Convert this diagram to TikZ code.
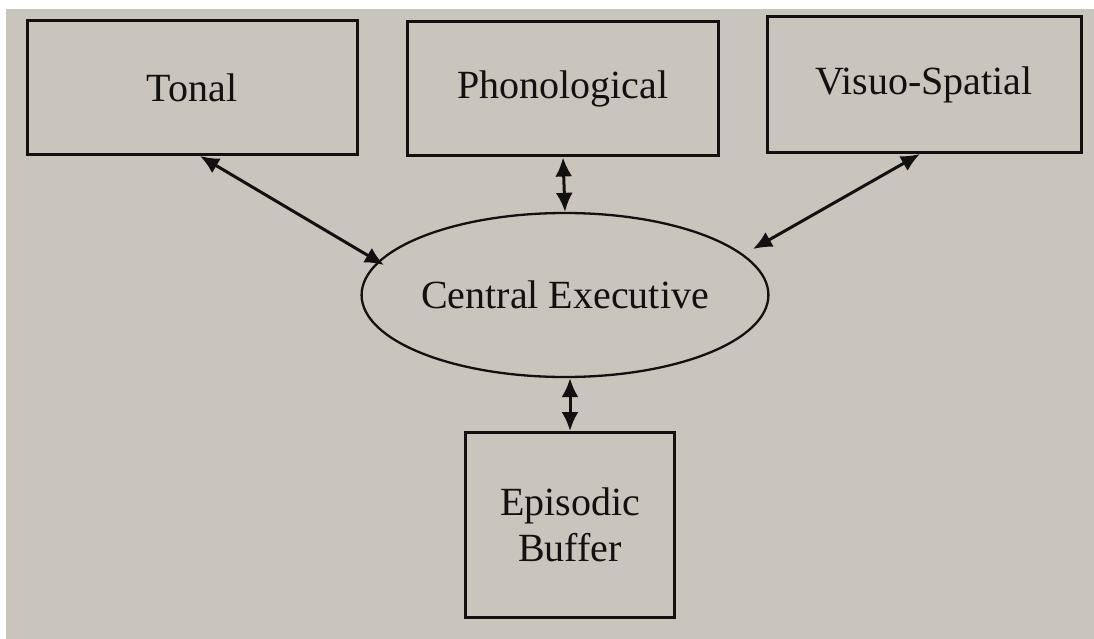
\documentclass[tikz,border=0pt]{standalone}
\usepackage{fontspec}
\setmainfont{Liberation Serif}
\usetikzlibrary{arrows.meta,shapes.geometric}
\definecolor{paper}{RGB}{201,196,188}
\definecolor{ink}{RGB}{18,16,16}
\tikzset{
  box/.style={draw=ink, line width=3pt, inner sep=0pt, font=\fontsize{40}{46}\selectfont, text=ink, align=center},
  exec/.style={draw=ink, ellipse, line width=2.3pt, inner sep=0pt, font=\fontsize{40}{46}\selectfont, text=ink},
  link/.style={draw=ink, line width=3pt, {Latex[length=19pt,width=17pt]}-{Latex[length=19pt,width=17pt]}}
}
\begin{document}
\begin{tikzpicture}[x=1pt,y=-1pt]
  % page and its light edge
  \fill[white] (0,0) rectangle (1094,639);
  \fill[paper] (6,9) rectangle (1094,639);
  \useasboundingbox (0,0) rectangle (1094,639);

  % memory stores
  \node[box, minimum width=330pt, minimum height=134pt] (tonal) at (192,88) {Tonal};
  \node[box, minimum width=311pt, minimum height=134pt] (phon) at (563,89) {Phonological};
  \node[box, minimum width=314pt, minimum height=136pt] (visuo) at (924,85) {Visuo-Spatial};

  % central executive
  \node[exec, minimum width=400pt, minimum height=164pt] (ce) at (565,295) {Central Executive};

  % episodic buffer
  \node[box, minimum width=209pt, minimum height=185pt] (buffer) at (570,525) {Episodic\\Buffer};

  % two-way links
  \coordinate (t1) at (200,156);
  \coordinate (t2) at (384,265);
  \coordinate (v1) at (920,154);
  \coordinate (v2) at (753,249);
  \draw[link] (t1) -- (t2);
  \draw[link] (v1) -- (v2);
  \draw[link] (phon.south) -- (ce.north);
  \draw[link] (ce.south -| buffer.north) -- (buffer.north);
\end{tikzpicture}
\end{document}
